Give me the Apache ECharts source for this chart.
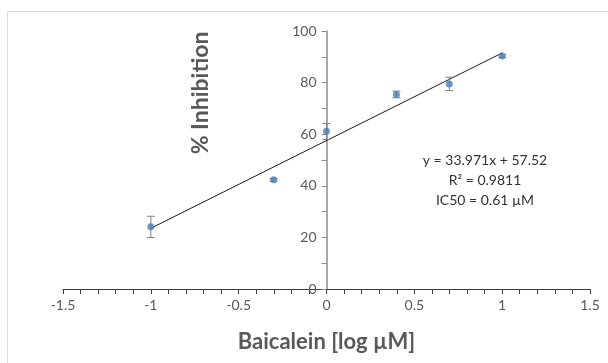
<!DOCTYPE html>
<html><head><meta charset="utf-8">
<script src="https://cdn.jsdelivr.net/npm/echarts@6/dist/echarts.min.js"></script>
<style>html,body{margin:0;padding:0;background:#fff}#c{width:608px;height:363px}</style>
</head><body><div id="c"></div>
<script>
const logConc = [-1, -0.301, 0, 0.398, 0.699, 1];
const inhibition = [24.1, 42.3, 61.1, 75.4, 79.5, 90.3];
const errors = [4.1, 0.5, 3.1, 1.3, 2.6, 0.5];
const slope = 33.971;
const intercept = 57.52;
const trendRange = [-1, 1];
const xTicks = [-1.5, 1.5, 0.5];
const yTicks = [0, 100, 20];
const eqLines = ['y = 33.971x + 57.52', 'R² = 0.9811', 'IC50 = 0.61 µM'];

const FONT = 'Lato, "Liberation Sans", sans-serif';
const GRID_L = 63, GRID_R = 18;
const chart = echarts.init(document.getElementById('c'));
const pts = logConc.map((x, i) => [x, inhibition[i]]);
const errData = logConc.map((x, i) => [x, inhibition[i] - errors[i], inhibition[i] + errors[i]]);
const trend = trendRange.map(x => [x, slope * x + intercept]);
// y axis crosses x axis at 0: offset from the left edge of the grid
const plotW = 608 - GRID_L - GRID_R;
const yOffset = -plotW * (0 - xTicks[0]) / (xTicks[1] - xTicks[0]);

chart.setOption({
  animation: false,
  grid: {left: GRID_L, right: GRID_R, top: 31, bottom: 74},
  xAxis: {
    type: 'value', min: xTicks[0], max: xTicks[1], interval: xTicks[2],
    splitLine: {show: false},
    axisLine: {onZero: false, lineStyle: {color: '#404040', width: 1}},
    axisTick: {length: 5, lineStyle: {color: '#404040'}},
    minorTick: {show: true, splitNumber: 5, length: 5, lineStyle: {color: '#404040'}},
    axisLabel: {color: '#595959', fontSize: 14, fontFamily: FONT, margin: 9},
    name: 'Baicalein [log µM]', nameLocation: 'middle', nameGap: 42,
    nameTextStyle: {color: '#595959', fontSize: 22, fontWeight: 'bold', fontFamily: FONT}
  },
  yAxis: {
    type: 'value', min: yTicks[0], max: yTicks[1], interval: yTicks[2],
    position: 'left', offset: yOffset,
    splitLine: {show: false},
    axisLine: {onZero: false, lineStyle: {color: '#8c8c8c', width: 1.5}},
    axisTick: {length: 5, lineStyle: {color: '#8c8c8c'}},
    minorTick: {show: true, splitNumber: 2, length: 5, lineStyle: {color: '#8c8c8c'}},
    axisLabel: {color: '#595959', fontSize: 14, fontFamily: FONT, margin: 10}
  },
  graphic: [
    {type: 'rect', shape: {x: 7.5, y: 11.5, width: 700, height: 500}, style: {fill: 'none', stroke: '#d9d9d9', lineWidth: 1}, silent: true, z: -1},
    {type: 'text', x: 201, y: 93, rotation: Math.PI / 2, style: {text: '% Inhibition', fill: '#595959', font: 'bold 23px ' + FONT, textAlign: 'center', textVerticalAlign: 'middle'}},
    {type: 'text', x: 485, y: 180, style: {text: eqLines.join('\n'), fill: '#333333', font: '14px ' + FONT, textAlign: 'center', textVerticalAlign: 'middle', lineHeight: 20}}
  ],
  series: [
    {type: 'line', data: trend, symbol: 'none', lineStyle: {color: '#1a1a1a', width: 1}, z: 1},
    {type: 'custom', data: errData, z: 2,
      renderItem: function (params, api) {
        const x = api.value(0);
        const lo = api.coord([x, api.value(1)]);
        const hi = api.coord([x, api.value(2)]);
        const w = 4;
        const st = {stroke: '#7f7f7f', lineWidth: 1};
        return {type: 'group', children: [
          {type: 'line', shape: {x1: lo[0], y1: lo[1], x2: hi[0], y2: hi[1]}, style: st},
          {type: 'line', shape: {x1: lo[0] - w, y1: lo[1], x2: lo[0] + w, y2: lo[1]}, style: st},
          {type: 'line', shape: {x1: hi[0] - w, y1: hi[1], x2: hi[0] + w, y2: hi[1]}, style: st}
        ]};
      }},
    {type: 'scatter', data: pts, symbol: 'circle', symbolSize: 7, itemStyle: {color: '#4a7ebb'}, z: 3}
  ]
});
</script></body></html>
